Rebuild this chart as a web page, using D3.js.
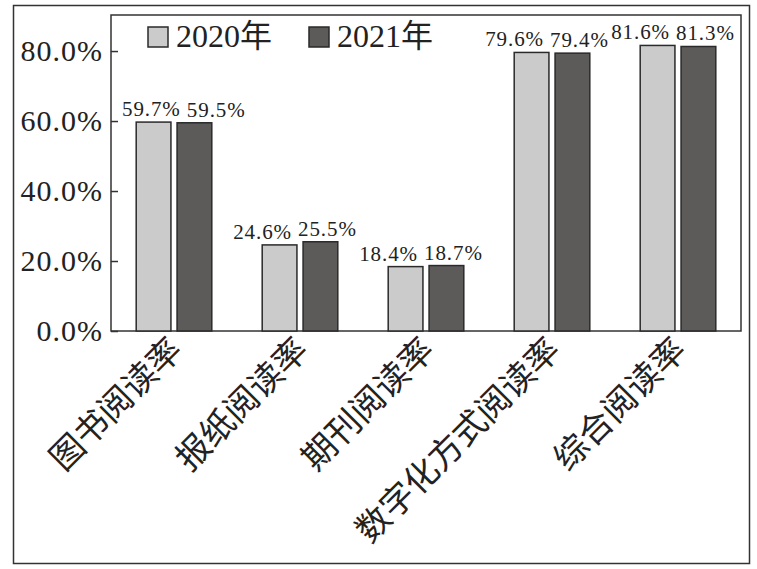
<!DOCTYPE html>
<html>
<head>
<meta charset="UTF-8">
<title>阅读率</title>
<script src="https://cdn.jsdelivr.net/npm/d3@7"></script>
<style>
  body { margin: 0; background: #fff; }
  svg text { fill: #222; }
</style>
</head>
<body>
<div id="chart"></div>
<script>
// 数据
var categories = ["图书阅读率", "报纸阅读率", "期刊阅读率", "数字化方式阅读率", "综合阅读率"];
var seriesNames = ["2020年", "2021年"];
var values2020 = [59.7, 24.6, 18.4, 79.6, 81.6];
var values2021 = [59.5, 25.5, 18.7, 79.4, 81.3];
var yTicks = [0, 20, 40, 60, 80];

var width = 757, height = 569;
var margin = {top: 15, right: 15, bottom: 238, left: 111};
var colors = ["#cbcbcb", "#5d5a5a"];
var serif = "'Liberation Serif', 'Times New Roman', serif";
var cjk = "'Noto Sans CJK SC', sans-serif";

var svg = d3.select("#chart").append("svg")
  .attr("width", width)
  .attr("height", height);

// 外框
svg.append("rect")
  .attr("x", 13.5).attr("y", 5.5)
  .attr("width", 736).attr("height", 558)
  .attr("fill", "none").attr("stroke", "#333").attr("stroke-width", 1.5);

var x0 = d3.scaleBand()
  .domain(categories)
  .range([margin.left, width - margin.right - 1])
  .paddingInner(0.4)
  .paddingOuter(0.2);

var x1 = d3.scaleBand()
  .domain(seriesNames)
  .range([0, x0.bandwidth()])
  .paddingInner(0.15);

var y = d3.scaleLinear()
  .domain([0, 90.3])
  .range([height - margin.bottom, margin.top]);

var plotTop = y(90.3), plotBottom = y(0);

// 绘图区框
svg.append("rect")
  .attr("x", margin.left).attr("y", plotTop)
  .attr("width", width - margin.right - 1 - margin.left)
  .attr("height", plotBottom - plotTop)
  .attr("fill", "none").attr("stroke", "#333").attr("stroke-width", 1.5);

// y轴
var yAxis = svg.append("g")
  .attr("transform", "translate(" + margin.left + ",0)")
  .call(d3.axisLeft(y).tickValues(yTicks).tickSizeInner(-7).tickSizeOuter(0).tickPadding(8)
    .tickFormat(function(d){ return d.toFixed(1) + "%"; }));
yAxis.select(".domain").remove();
yAxis.selectAll("line").attr("stroke", "#333").attr("stroke-width", 1.5);
yAxis.selectAll("text")
  .attr("font-family", serif).attr("font-size", "30px").attr("fill", "#222")
  .attr("letter-spacing", "1px");

// 柱形
var rows = categories.map(function(c, i){
  return {cat: c, vals: [values2020[i], values2021[i]]};
});
var groups = svg.selectAll("g.grp").data(rows).enter().append("g")
  .attr("class", "grp")
  .attr("transform", function(d){ return "translate(" + x0(d.cat) + ",0)"; });

function items(d){
  return d.vals.map(function(v, k){ return {s: seriesNames[k], v: v, k: k}; });
}

groups.selectAll("rect").data(items).enter().append("rect")
  .attr("x", function(d){ return x1(d.s); })
  .attr("y", function(d){ return y(d.v); })
  .attr("width", x1.bandwidth())
  .attr("height", function(d){ return plotBottom - y(d.v); })
  .attr("fill", function(d){ return colors[d.k]; })
  .attr("stroke", "#2a2a2a").attr("stroke-width", 1.5);

// 数值标签：2020年靠左、2021年靠右，避免重叠
groups.selectAll("text.val").data(items).enter().append("text")
  .attr("class", "val")
  .attr("x", function(d){
    return d.k === 0 ? x1(d.s) + x1.bandwidth() - 5 : x1(d.s) - 5;
  })
  .attr("y", function(d){ return y(d.v) - 6; })
  .attr("text-anchor", function(d){ return d.k === 0 ? "end" : "start"; })
  .attr("font-family", serif).attr("font-size", "21px")
  .attr("letter-spacing", "0.9px")
  .text(function(d){ return d.v.toFixed(1) + "%"; });

// 靠近左边框的一组标签整体右移
groups.each(function(d){
  var g = d3.select(this);
  var left = x0(d.cat) + g.select("text.val").node().getBBox().x;
  var shift = Math.max(0, margin.left + 11 - left);
  if (shift > 0) {
    g.selectAll("text.val").attr("transform", "translate(" + shift + ",0)");
  }
});

// x轴标签
svg.selectAll("text.xlab").data(categories).enter().append("text")
  .attr("class", "xlab")
  .attr("text-anchor", "end")
  .attr("font-family", cjk).attr("font-size", "34px")
  .attr("transform", function(d){
    return "translate(" + (x0(d) + x0.bandwidth() / 2 - 9) + "," + (plotBottom + 2) + ") rotate(-45)";
  })
  .attr("dy", "0.8em")
  .text(function(d){ return d; });

// 图例
var legend = svg.selectAll("g.leg").data(seriesNames).enter().append("g")
  .attr("class", "leg")
  .attr("transform", function(d, i){ return "translate(" + (148 + i * 161) + ",27)"; });
legend.append("rect")
  .attr("width", 20).attr("height", 20)
  .attr("fill", function(d, i){ return colors[i]; })
  .attr("stroke", "#2a2a2a").attr("stroke-width", 1.5);
legend.append("text")
  .attr("x", 28).attr("y", 20)
  .attr("font-family", serif + ", " + cjk).attr("font-size", "32px")
  .text(function(d){ return d; });
</script>
</body>
</html>
